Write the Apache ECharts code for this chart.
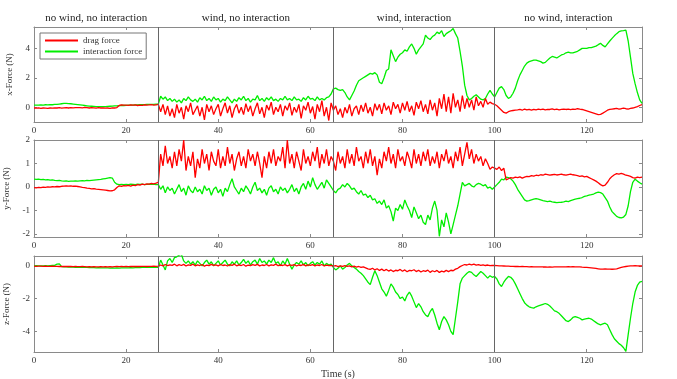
<!DOCTYPE html>
<html>
<head>
<meta charset="utf-8">
<title>drag / interaction force</title>
<script src="https://cdn.jsdelivr.net/npm/echarts@6/dist/echarts.min.js"></script>
<style>
  html, body { margin: 0; padding: 0; background: #fff; }
  #chart { width: 677px; height: 379px; }
</style>
</head>
<body>
<div id="chart"></div>
<script>
// samples every 0.5 s, t = 0 ... 132
const dt = 0.5
const phaseEdges = [0, 27, 65, 100, 132]
const phaseLabels = ['no wind, no interaction', 'wind, no interaction', 'wind, interaction', 'no wind, interaction']
const seriesNames = ['drag force', 'interaction force']
const timeTicks = [0, 20, 40, 60, 80, 100, 120]

// x-Force
const xDrag = [
  -0.05, -0.06, -0.04, -0.07, -0.05, -0.06, -0.08, -0.05, -0.06, -0.04,
  -0.05, -0.03, -0.06, -0.04, -0.02, -0.05, -0.03, -0.04, -0.02, -0.03,
  -0.02, -0.04, -0.01, -0.03, -0.05, -0.02, -0.04, -0.06, -0.03, -0.05,
  -0.04, -0.06, -0.05, -0.07, -0.04, -0.05, -0.02, 0.12, 0.16, 0.14,
  0.15, 0.13, 0.17, 0.14, 0.16, 0.12, 0.15, 0.13, 0.17, 0.15,
  0.16, 0.18, 0.14, 0.17, 0.2, -0.3, 0.2, -0.5, 0.1, -0.6,
  -0.1, -0.7, 0.2, -0.4, 0.0, -0.8, 0.1, -0.3, 0.3, -0.5,
  -0.2, 0.1, -0.6, 0.0, -0.85, 0.2, -0.3, 0.1, -0.5, -0.1,
  0.2, -0.6, -0.1, 0.3, -0.4, 0.1, -0.7, -0.1, 0.2, -0.4,
  0.0, -0.5, 0.25, -0.3, 0.1, -0.6, -0.1, 0.3, -0.45, 0.0,
  -0.7, 0.15, -0.2, 0.35, -0.5, 0.0, -0.3, 0.2, -0.6, 0.1,
  -0.2, 0.3, -0.55, 0.0, -0.35, 0.2, -0.75, 0.1, -0.2, 0.35,
  -0.4, 0.05, -0.8, 0.2, -0.3, 0.45, -0.6, 0.0, -0.9, 0.3,
  -0.2, 0.1, -0.5, -0.1, -0.7, 0.0, -0.4, 0.2, -0.6, -0.1,
  0.1, -0.5, 0.15, -0.3, 0.3, -0.4, 0.0, -0.6, 0.25, -0.2,
  0.2, -0.45, 0.3, -0.2, 0.1, -0.5, 0.35, -0.1, 0.2, -0.4,
  0.3, -0.2, 0.4, -0.3, 0.1, -0.55, 0.35, -0.1, 0.45, -0.3,
  0.2, -0.45, 0.5, -0.2, 0.3, -0.6, 0.6, -0.1, 0.9, -0.3,
  0.7, -0.4, 0.95, 0.0, 0.5, -0.3, 0.8, -0.1, 0.6, 0.0,
  0.5, -0.2, 0.7, 0.1, 0.4, 0.0, 0.6, 0.2, 0.35, 0.25,
  0.2, 0.1, -0.05, -0.2, -0.35, -0.4, -0.3, -0.25, -0.22, -0.2,
  -0.18, -0.15, -0.2, -0.12, -0.18, -0.15, -0.2, -0.14, -0.17, -0.13,
  -0.16, -0.12, -0.18, -0.14, -0.15, -0.11, -0.16, -0.13, -0.17, -0.14,
  -0.12, -0.15, -0.13, -0.16, -0.12, -0.14, -0.1, -0.13, -0.15, -0.2,
  -0.25, -0.3, -0.35, -0.4, -0.45, -0.5, -0.48, -0.4, -0.3, -0.2,
  -0.15, -0.12, -0.1, -0.08, -0.12, -0.1, -0.06, -0.1, -0.12, -0.08,
  -0.05, 0.0, 0.05, 0.12, 0.18
]
const xInter = [
  0.14, 0.15, 0.14, 0.16, 0.15, 0.17, 0.16, 0.18, 0.17, 0.19,
  0.2, 0.22, 0.24, 0.26, 0.27, 0.25, 0.24, 0.22, 0.2, 0.18,
  0.16, 0.14, 0.12, 0.1, 0.08, 0.07, 0.06, 0.05, 0.05, 0.04,
  0.05, 0.05, 0.06, 0.07, 0.08, 0.09, 0.1, 0.11, 0.12, 0.12,
  0.13, 0.14, 0.14, 0.15, 0.16, 0.16, 0.17, 0.18, 0.18, 0.19,
  0.19, 0.2, 0.2, 0.21, 0.22, 0.75, 0.55, 0.7, 0.45, 0.6,
  0.4, 0.55, 0.35, 0.5, 0.3, 0.6, 0.45, 0.7, 0.5, 0.4,
  0.55, 0.35, 0.65, 0.5, 0.75, 0.45, 0.6, 0.4, 0.7, 0.5,
  0.6, 0.35, 0.55, 0.45, 0.7, 0.5, 0.3, 0.55, 0.4, 0.65,
  0.5, 0.75, 0.45, 0.6, 0.35, 0.55, 0.5, 0.8, 0.45, 0.6,
  0.4, 0.65, 0.5, 0.7, 0.45, 0.55, 0.4, 0.6, 0.5, 0.75,
  0.5, 0.6, 0.45, 0.7, 0.5, 0.55, 0.4, 0.65, 0.5, 0.75,
  0.55, 0.6, 0.45, 0.7, 0.5, 0.6, 0.5, 0.65, 0.7, 0.9,
  1.25, 1.3, 1.2, 1.15, 1.2, 1.0, 0.7, 0.5, 0.8, 1.1,
  1.5, 1.8, 1.9, 2.0, 2.1, 2.2, 2.3, 2.25, 2.35, 2.2,
  1.7, 1.6, 2.0, 2.5, 2.6, 3.9, 3.5, 3.1, 3.4, 3.6,
  3.7, 3.9, 3.8, 4.1, 4.3, 4.0, 3.6, 3.9, 4.1, 4.3,
  4.9, 4.7, 4.6, 4.8, 4.9, 5.1, 5.0, 5.2, 4.8, 5.0,
  5.1, 5.2, 5.35, 5.0, 4.7, 3.8, 2.8, 1.5, 0.8, 0.5,
  0.6, 0.75, 0.85, 0.7, 0.55, 0.5, 0.6, 0.9, 1.15, 0.9,
  0.7, 1.0, 1.3, 1.4, 1.2, 0.8, 0.6, 0.7, 0.95, 1.3,
  1.8, 2.2, 2.5, 2.8, 3.0, 3.1, 3.15, 3.2, 3.2, 3.15,
  3.1, 3.0, 3.05, 3.2, 3.35, 3.45, 3.4, 3.35, 3.45, 3.55,
  3.6, 3.7, 3.75, 3.7, 3.7, 3.75, 3.8, 3.9, 4.0, 4.0,
  4.0, 4.05, 4.05, 4.1, 4.15, 4.25, 4.34, 4.2, 4.1, 4.3,
  4.5, 4.68, 4.85, 5.0, 5.13, 5.18, 5.2, 5.24, 4.5, 3.4,
  2.3, 1.6, 1.0, 0.5, 0.27
]

// y-Force
const yDrag = [
  -0.03, -0.04, -0.02, -0.03, -0.01, -0.02, 0.0, -0.01, 0.01, 0.0,
  0.02, 0.01, 0.03, 0.04, 0.05, 0.04, 0.05, 0.03, 0.04, 0.02,
  0.0, -0.02, -0.03, -0.05, -0.06, -0.08, -0.07, -0.09, -0.1, -0.11,
  -0.12, -0.13, -0.15, -0.17, -0.16, -0.12, -0.02, 0.05, 0.03, 0.06,
  0.05, 0.07, 0.04, 0.08, 0.06, 0.1, 0.08, 0.12, 0.1, 0.13,
  0.12, 0.15, 0.13, 0.16, 0.2, 1.4, 0.9, 1.75, 1.0, 1.3,
  0.8, 1.5, 0.9, 1.6, 1.1, 2.0, 0.7, 1.3, 0.9, 1.5,
  0.4, 1.2, 0.8, 1.6, 1.0, 1.4, 0.7, 1.5, 1.1, 0.9,
  1.6, 0.8, 1.3, 0.9, 1.7, 1.0, 1.4, 0.7, 1.2, 1.5,
  0.9, 1.3, 0.8, 1.6, 1.1, 1.4, 0.9, 1.5, 1.0, 0.4,
  1.3, 0.8, 1.5, 1.0, 1.6, 0.9, 1.3, 1.1, 1.7, 0.8,
  2.0, 1.0, 1.4, 0.8, 1.5, 1.1, 0.7, 1.6, 1.0, 1.3,
  0.9, 1.5, 1.1, 1.7, 0.8, 1.4, 1.0, 1.6, 0.9, 1.3,
  1.1, 0.7, 1.5, 1.0, 1.3, 0.8, 1.6, 1.0, 1.4, 0.9,
  1.7, 1.1, 1.3, 0.8, 1.5, 1.0, 1.6, 0.9, 1.3, 0.5,
  1.2, 0.8, 1.5, 1.1, 1.7, 1.0, 1.4, 0.8, 1.6, 1.1,
  1.3, 0.9, 1.5, 1.2, 0.8, 1.6, 1.0, 1.4, 0.9, 1.5,
  1.1, 1.6, 0.9, 1.3, 1.0, 1.5, 0.8, 1.4, 1.1, 1.6,
  1.0, 1.3, 0.8, 1.5, 1.1, 1.7, 0.9, 1.4, 1.9, 1.2,
  1.6, 1.0, 1.4, 1.1, 1.3, 0.9, 1.2, 1.0, 0.75, 0.85,
  0.8, 0.75, 0.85, 0.7, 0.8, 0.3, 0.35, 0.4, 0.38, 0.42,
  0.4, 0.43, 0.38, 0.42, 0.45, 0.44, 0.48, 0.46, 0.5, 0.48,
  0.52, 0.5, 0.55, 0.53, 0.5, 0.52, 0.54, 0.51, 0.53, 0.55,
  0.52, 0.5, 0.53, 0.55, 0.52, 0.5, 0.48, 0.45, 0.47, 0.43,
  0.45, 0.4, 0.35, 0.3, 0.25, 0.18, 0.1, 0.05, 0.08, 0.2,
  0.35, 0.45, 0.52, 0.57, 0.55, 0.58, 0.55, 0.5, 0.48, 0.45,
  0.4, 0.38, 0.42, 0.4, 0.42
]
const yInter = [
  0.33, 0.32, 0.33, 0.31, 0.32, 0.3, 0.31, 0.29, 0.3, 0.28,
  0.27, 0.28, 0.26, 0.25, 0.26, 0.24, 0.25, 0.25, 0.26, 0.25,
  0.26, 0.27, 0.26, 0.28, 0.27, 0.28, 0.29, 0.3, 0.31, 0.32,
  0.34, 0.36, 0.38, 0.4, 0.38, 0.2, 0.12, 0.1, 0.11, 0.1,
  0.11, 0.1, 0.12, 0.11, 0.1, 0.12, 0.11, 0.12, 0.1, 0.11,
  0.12, 0.11, 0.12, 0.1, 0.1, -0.1, 0.05, -0.25, 0.0, -0.15,
  -0.05, -0.3, -0.1, 0.1, -0.2, -0.05, -0.35, 0.05, -0.15, -0.25,
  0.0, -0.2, -0.1, -0.3, 0.05, -0.15, -0.05, -0.35, -0.1, 0.0,
  -0.25, -0.1, -0.4, -0.05, -0.2, 0.1, 0.35, 0.0, -0.15, -0.3,
  -0.05, -0.2, 0.05, -0.1, -0.3, 0.0, 0.2, -0.15, -0.05, -0.25,
  -0.1, -0.35, -0.05, 0.05, -0.2, -0.1, -0.3, 0.0, -0.15, -0.05,
  -0.25, -0.1, 0.1, -0.2, -0.05, -0.3, 0.0, 0.15, -0.1, 0.25,
  0.0, 0.4, 0.1, -0.1, 0.05, 0.2, -0.05, 0.3, 0.15, 0.0,
  -0.15, -0.25, -0.1, -0.05, 0.1, 0.0, 0.15, 0.05, -0.1, -0.05,
  -0.2, -0.3, -0.15, -0.35, -0.3, -0.45, -0.35, -0.55, -0.5, -0.7,
  -0.6, -0.75, -0.55, -0.9, -0.8, -1.05, -1.45, -0.9, -1.0, -0.75,
  -0.95, -0.55, -0.8, -1.0, -1.3, -0.85, -1.1, -1.35, -1.2, -1.5,
  -1.6, -1.2, -1.4, -0.9, -0.6, -1.0, -2.1, -1.4, -1.7, -1.1,
  -1.5, -2.0, -1.6, -1.2, -0.8, -0.3, 0.2, 0.05, 0.1, 0.15,
  0.05, 0.0, 0.1, 0.15, 0.12, 0.05, 0.1, -0.05, 0.0, -0.1,
  0.0, 0.1, 0.2, 0.33, 0.3, 0.42, 0.4, 0.35, 0.25, 0.1,
  -0.1, -0.25, -0.4, -0.55, -0.6, -0.58, -0.55, -0.52, -0.5, -0.52,
  -0.55, -0.58, -0.6, -0.62, -0.6, -0.63, -0.65, -0.67, -0.66, -0.65,
  -0.63, -0.6, -0.62, -0.58, -0.55, -0.52, -0.5, -0.48, -0.45, -0.4,
  -0.38, -0.35, -0.33, -0.3, -0.25, -0.22, -0.24, -0.3, -0.45, -0.6,
  -0.85, -1.05, -1.15, -1.25, -1.3, -1.32, -1.28, -1.17, -0.8, -0.2,
  0.2, 0.33, 0.25, 0.18, 0.12
]

// z-Force
const zDrag = [
  -0.02, -0.03, -0.02, -0.02, -0.03, -0.02, -0.03, -0.03, -0.02, -0.03,
  -0.03, -0.04, -0.03, -0.04, -0.04, -0.03, -0.04, -0.05, -0.04, -0.05,
  -0.05, -0.04, -0.05, -0.06, -0.05, -0.06, -0.05, -0.06, -0.06, -0.05,
  -0.06, -0.05, -0.06, -0.05, -0.06, -0.05, -0.04, -0.05, -0.04, -0.05,
  -0.04, -0.05, -0.04, -0.03, -0.04, -0.03, -0.04, -0.03, -0.03, -0.04,
  -0.03, -0.03, -0.02, -0.03, -0.02, 0.05, 0.0, 0.08, 0.02, 0.06,
  0.03, 0.1, 0.0, 0.07, 0.02, 0.09, -0.01, 0.06, 0.03, 0.1,
  0.0, 0.06, 0.02, 0.08, -0.02, 0.05, 0.01, 0.09, 0.03, 0.06,
  0.0, 0.08, 0.02, 0.05, -0.01, 0.07, 0.03, 0.1, 0.0, 0.06,
  0.02, 0.08, -0.02, 0.05, 0.01, 0.07, 0.03, 0.09, 0.0, 0.05,
  0.02, 0.08, 0.0, 0.06, 0.03, 0.1, 0.01, 0.05, 0.02, 0.07,
  0.0, 0.06, 0.03, 0.08, -0.01, 0.05, 0.02, 0.09, 0.0, 0.06,
  0.03, 0.07, 0.0, 0.05, 0.02, 0.08, -0.01, 0.04, 0.01, 0.03,
  -0.02, 0.02, -0.05, 0.0, -0.04, 0.01, -0.03, 0.0, -0.06, -0.02,
  -0.08, -0.04, -0.1, -0.06, -0.12, -0.18, -0.22, -0.15, -0.25, -0.18,
  -0.28, -0.2, -0.3, -0.22, -0.32, -0.25, -0.35, -0.27, -0.3, -0.22,
  -0.33, -0.25, -0.36, -0.28, -0.3, -0.24, -0.35, -0.27, -0.38, -0.3,
  -0.34, -0.26, -0.4, -0.3, -0.36, -0.28, -0.4, -0.32, -0.37, -0.28,
  -0.35, -0.27, -0.3, -0.2, -0.15, -0.05, 0.02, 0.08, 0.05, 0.1,
  0.06, 0.1, 0.04, 0.08, 0.03, 0.06, 0.02, 0.05, 0.01, 0.03,
  0.02, 0.01, 0.0, 0.0, -0.01, -0.02, -0.02, -0.03, -0.03, -0.04,
  -0.04, -0.05, -0.04, -0.05, -0.05, -0.06, -0.05, -0.06, -0.06, -0.07,
  -0.06, -0.07, -0.07, -0.08, -0.07, -0.08, -0.07, -0.06, -0.07, -0.06,
  -0.07, -0.06, -0.05, -0.06, -0.05, -0.06, -0.07, -0.06, -0.08, -0.09,
  -0.1, -0.11, -0.12, -0.14, -0.16, -0.18, -0.2, -0.2, -0.19, -0.2,
  -0.2, -0.21, -0.2, -0.18, -0.14, -0.1, -0.06, -0.04, -0.02, 0.0,
  0.0, 0.01, 0.0, -0.01, 0.0
]
const zInter = [
  0.0, 0.01, 0.0, -0.01, 0.0, 0.01, 0.0, 0.01, 0.02, 0.03,
  0.1, 0.12, -0.05, -0.06, -0.07, -0.08, -0.07, -0.08, -0.09, -0.08,
  -0.09, -0.1, -0.09, -0.1, -0.11, -0.1, -0.11, -0.12, -0.11, -0.12,
  -0.13, -0.12, -0.13, -0.14, -0.13, -0.14, -0.13, -0.14, -0.13, -0.12,
  -0.13, -0.12, -0.11, -0.12, -0.11, -0.1, -0.11, -0.1, -0.09, -0.1,
  -0.1, -0.09, -0.1, -0.09, -0.1, 0.35, 0.05, -0.25, 0.3, 0.45,
  0.2, 0.5, 0.55, 0.65, 0.7, 0.3, 0.15, 0.3, 0.1, 0.25,
  0.05, 0.3, 0.15, 0.0, 0.2, 0.35, 0.1, 0.25, 0.0, 0.15,
  0.3, 0.05, 0.2, 0.35, 0.1, 0.0, 0.25, 0.1, 0.3, 0.05,
  0.2, 0.4, 0.15, 0.3, 0.05, 0.25, 0.35, 0.1, 0.45, 0.2,
  0.3, 0.1, 0.35, 0.2, 0.5, 0.15, 0.25, 0.0, 0.3, 0.1,
  0.45, 0.1, -0.2, 0.05, 0.2, 0.1, 0.3, 0.05, 0.2, 0.0,
  0.15, 0.25, 0.05, 0.2, 0.1, 0.3, 0.0, 0.15, 0.05, 0.1,
  -0.1, -0.25, -0.15, 0.0, -0.2, -0.1, 0.05, 0.15, 0.0, -0.1,
  -0.2, -0.35, -0.45, -0.6, -0.8, -1.0, -1.15, -0.7, -0.3, -0.6,
  -1.0, -1.4, -1.6, -1.85, -1.5, -1.1, -1.3, -1.6, -1.75, -2.0,
  -1.9, -2.15, -1.8, -1.6, -1.85, -2.2, -2.55, -2.3, -2.5, -2.8,
  -3.0, -3.1, -2.8, -2.6, -3.0, -3.5, -3.9, -3.4, -3.1, -3.3,
  -3.6, -4.0, -4.2, -3.2, -2.2, -1.1, -0.75, -0.6, -0.45, -0.35,
  -0.4, -0.55, -0.65, -0.5, -0.35, -0.45, -0.6, -0.75, -0.6, -0.7,
  -0.65, -0.8, -1.1, -1.26, -1.0, -0.8, -0.65, -0.7, -0.85, -1.1,
  -1.4, -1.7, -2.0, -2.25, -2.4, -2.5, -2.55, -2.58, -2.5, -2.45,
  -2.4, -2.35, -2.3, -2.35, -2.45, -2.6, -2.75, -2.8, -2.9, -3.05,
  -3.2, -3.35, -3.4, -3.3, -3.15, -3.1, -3.15, -3.2, -3.3, -3.25,
  -3.22, -3.2, -3.25, -3.35, -3.45, -3.55, -3.6, -3.55, -3.5, -3.6,
  -3.9, -4.2, -4.45, -4.6, -4.75, -4.85, -5.0, -5.22, -4.2, -3.2,
  -2.3, -1.6, -1.2, -1.0, -0.95
]

// one entry per panel
const panels = [
  { name: 'x-Force (N)', drag: xDrag, inter: xInter, min: -1, max: 5.45, ticks: [0, 2, 4] },
  { name: 'y-Force (N)', drag: yDrag, inter: yInter, min: -2.13, max: 2, ticks: [-2, -1, 0, 1, 2] },
  { name: 'z-Force (N)', drag: zDrag, inter: zInter, min: -5.26, max: 0.6, ticks: [-4, -2, 0] }
]

const FONT = 'Liberation Serif'
const AXIS_COLOR = '#8a8a8a'
const TEXT_COLOR = '#333'
const gridBoxes = [{ top: 27, height: 95 }, { top: 140, height: 97 }, { top: 256, height: 96 }]

const chart = echarts.init(document.getElementById('chart'))

function toPairs(values) {
  return values.map((v, i) => [i * dt, v])
}

function setGrid() {
  // fixed boxes, no automatic room for labels
  return gridBoxes.map(b => ({ left: 34, right: 35, top: b.top, height: b.height, containLabel: false, outerBoundsMode: 'none' }))
}

function setXAxis() {
  const axes = []
  panels.forEach((p, g) => {
    const base = {
      gridIndex: g,
      type: 'value',
      min: 0,
      max: 132,
      axisLine: { show: true, onZero: false, lineStyle: { color: AXIS_COLOR, width: 1 } },
      axisTick: { show: true, inside: true, length: 3, customValues: timeTicks, lineStyle: { color: AXIS_COLOR } },
      splitLine: { show: false }
    }
    // bottom axis with labels
    axes.push({
      ...base,
      position: 'bottom',
      name: g === 2 ? 'Time (s)' : '',
      nameLocation: 'middle',
      nameGap: 17,
      nameTextStyle: { fontFamily: FONT, fontSize: 10, color: TEXT_COLOR },
      axisLabel: { show: true, customValues: timeTicks, fontFamily: FONT, fontSize: 9, color: TEXT_COLOR, margin: 4 }
    })
    // top axis, box only
    axes.push({ ...base, position: 'top', axisLabel: { show: false } })
  })
  return axes
}

function setYAxis() {
  const axes = []
  panels.forEach((p, g) => {
    const base = {
      gridIndex: g,
      type: 'value',
      min: p.min,
      max: p.max,
      axisLine: { show: true, onZero: false, lineStyle: { color: AXIS_COLOR, width: 1 } },
      axisTick: { show: true, inside: true, length: 3, customValues: p.ticks, lineStyle: { color: AXIS_COLOR } },
      splitLine: { show: false }
    }
    axes.push({
      ...base,
      position: 'left',
      name: p.name,
      nameLocation: 'middle',
      nameGap: 14,
      nameTextStyle: { fontFamily: FONT, fontSize: 9, color: TEXT_COLOR },
      axisLabel: { show: true, customValues: p.ticks, fontFamily: FONT, fontSize: 9, color: TEXT_COLOR, margin: 4 }
    })
    axes.push({ ...base, position: 'right', axisLabel: { show: false } })
  })
  return axes
}

function setLine(name, values, g, color, extra = {}) {
  return {
    type: 'line',
    name: name,
    data: toPairs(values),
    xAxisIndex: g * 2,
    yAxisIndex: g * 2,
    symbol: 'none',
    color: color,
    lineStyle: { color: color, width: 1.3 },
    animation: false,
    ...extra
  }
}

function phaseLines() {
  return {
    symbol: 'none',
    silent: true,
    label: { show: false },
    lineStyle: { color: '#666', width: 1, type: 'solid' },
    data: phaseEdges.slice(1, -1).map(t => ({ xAxis: t }))
  }
}

function setSeries() {
  const list = []
  panels.forEach((p, g) => {
    list.push(setLine(seriesNames[0], p.drag, g, '#ff0000', { markLine: phaseLines(), z: 3 }))
    list.push(setLine(seriesNames[1], p.inter, g, '#00ee00', { z: 2 }))
  })
  return list
}

function setLegend() {
  return {
    show: true,
    data: seriesNames,
    orient: 'vertical',
    left: 40,
    top: 33,
    padding: [3, 4, 3, 5],
    itemGap: 2,
    icon: 'rect', // plain line sample, no marker
    itemWidth: 33,
    itemHeight: 2,
    borderColor: '#777',
    borderWidth: 1,
    borderRadius: 0,
    backgroundColor: '#fff',
    textStyle: { fontFamily: FONT, fontSize: 9, color: TEXT_COLOR }
  }
}

chart.setOption({
  animation: false,
  backgroundColor: '#fff',
  textStyle: { fontFamily: FONT },
  grid: setGrid(),
  legend: setLegend(),
  xAxis: setXAxis(),
  yAxis: setYAxis(),
  series: setSeries()
})

// phase titles centred over each section of the top panel
const titleY = 18
chart.setOption({
  graphic: phaseLabels.map((text, i) => {
    const mid = (phaseEdges[i] + phaseEdges[i + 1]) / 2
    const x = chart.convertToPixel({ xAxisIndex: 0 }, mid)
    return {
      type: 'text',
      x: x,
      y: titleY,
      silent: true,
      style: { text: text, fontFamily: FONT, fontSize: 11, fill: '#222', align: 'center', verticalAlign: 'middle' }
    }
  })
})
</script>
</body>
</html>
